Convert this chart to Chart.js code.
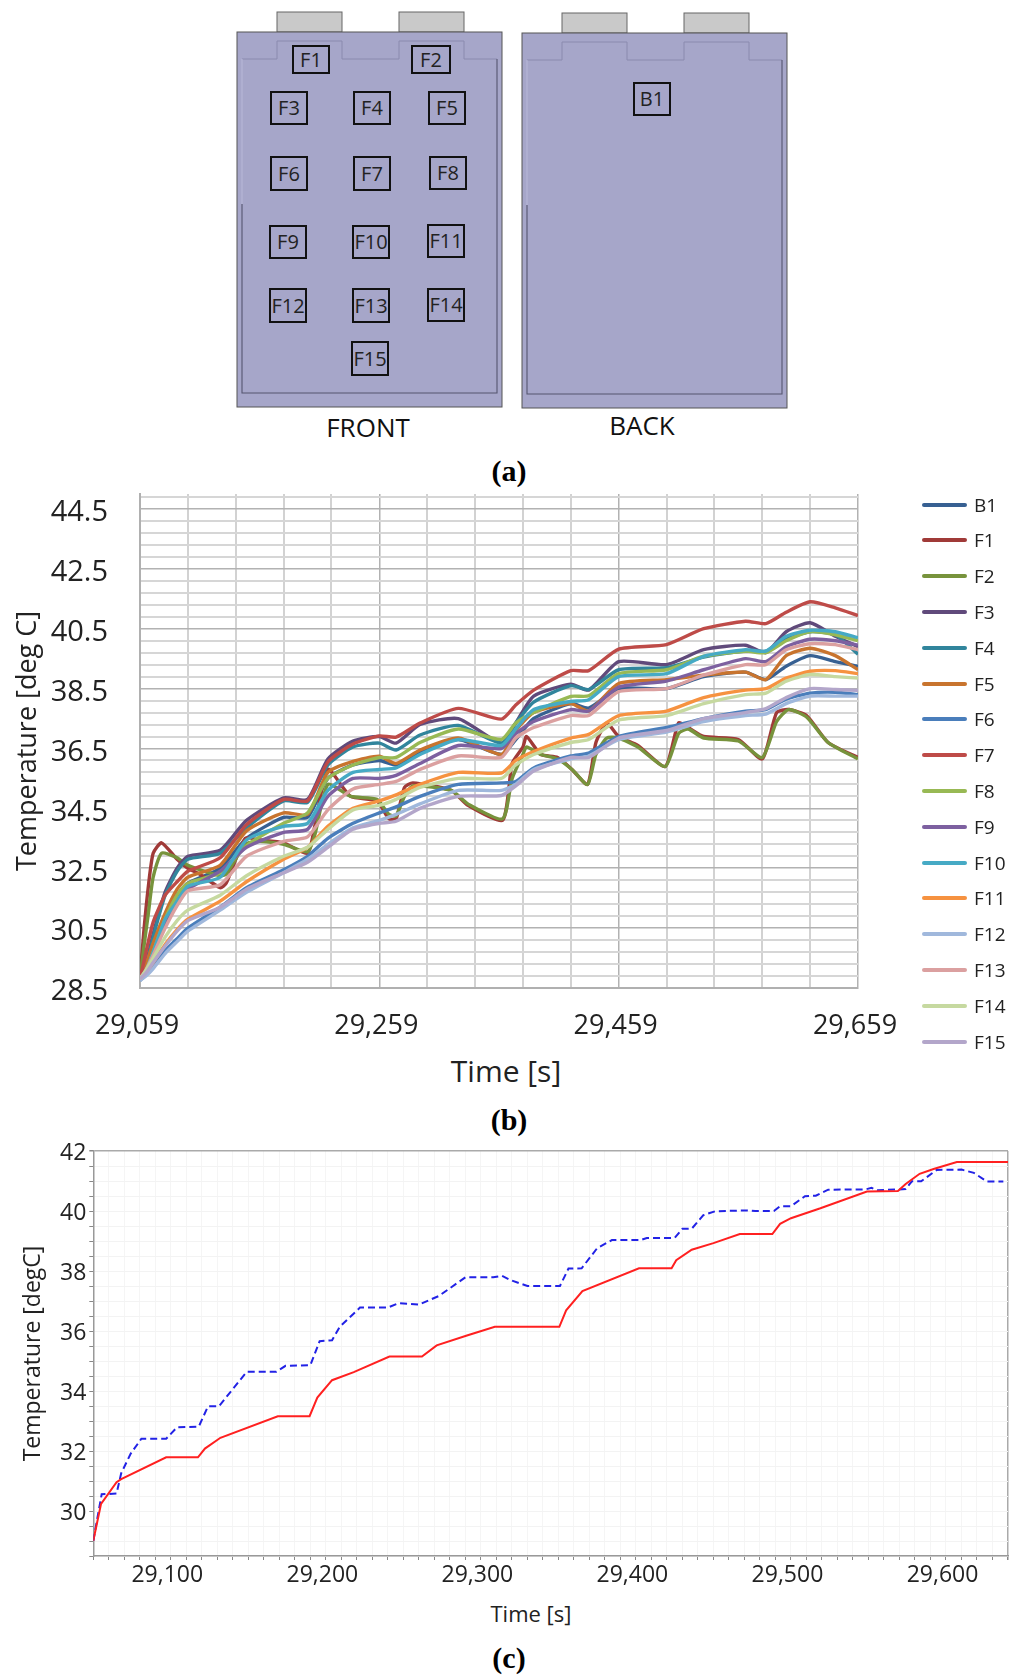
<!DOCTYPE html>
<html>
<head>
<meta charset="utf-8">
<script src="https://cdn.jsdelivr.net/npm/chart.js@4"></script>
<style>
  html, body { margin: 0; padding: 0; background: #fff; }
  #page { position: relative; width: 1024px; height: 1676px; overflow: hidden; font-family: "Open Sans", sans-serif; }
  canvas { position: absolute; left: 0; }
  .cap { position: absolute; width: 60px; margin-left: -30px; text-align: center; font: bold 30px "Liberation Serif", serif; line-height: 32px; color: #000; }
  .leg { position: absolute; left: 922px; height: 24px; font-size: 19px; line-height: 24px; color: #222; }
  .leg i { position: absolute; left: 0; top: 10px; width: 45px; height: 4px; border-radius: 2px; }
  .leg span { position: absolute; left: 52px; }
  .xtitle { position: absolute; width: 200px; margin-left: -100px; text-align: center; color: #222; }
</style>
</head>
<body>
<div id="page">
  <svg id="cell" width="1024" height="450" style="position:absolute;left:0;top:0"></svg>
  <div class="cap" style="left:509px;top:455px">(a)</div>
  <canvas id="chartB" width="1024" height="568" style="top:480px"></canvas>
  <div class="xtitle" style="left:506px;top:1050px;font-size:30px;line-height:42px">Time [s]</div>
  <div id="legendB"></div>
  <div class="cap" style="left:509px;top:1104px">(b)</div>
  <canvas id="chartC" width="1024" height="466" style="top:1130px"></canvas>
  <div class="xtitle" style="left:531px;top:1597px;font-size:22px;line-height:32px">Time [s]</div>
  <div class="cap" style="left:509px;top:1642px">(c)</div>
</div>
<script>
// --- (b) measured temperatures ---
const timeB = [29059,29064,29070,29080,29090,29099,29126,29148,29179,29199,29216,29237,29259,29273,29293,29325,29361,29373,29388,29419,29434,29459,29499,29530,29565,29582,29599,29619,29640,29659];
const timeDip = [29059,29062,29066,29070,29077,29090,29099,29109,29126,29131,29147,29158,29179,29199,29205,29216,29235,29257,29267,29273,29280,29287,29319,29333,29362,29370,29379,29382,29394,29408,29420,29433,29440,29449,29459,29475,29498,29509,29517,29530,29559,29579,29591,29601,29616,29634,29659];

const b1  = [28.8,29.2,29.8,30.9,31.6,32.0,32.5,33.5,34.2,34.2,35.5,35.95,36.1,35.95,36.4,36.8,36.3,36.8,37.5,38.0,37.85,38.5,38.5,38.9,39.05,38.8,39.25,39.6,39.4,39.25];
const f1  = [28.8,30.3,31.9,33.0,33.35,32.8,32.5,32.3,31.85,32.0,33.5,33.45,33.35,33.0,33.9,35.8,34.9,34.75,34.15,34.15,35.2,35.35,35.1,34.6,34.1,36.0,36.55,36.9,36.3,36.2,35.8,35.3,36.7,37.35,36.9,36.6,35.9,37.35,37.2,36.9,36.8,36.15,37.7,37.8,37.6,36.7,36.2];
const f2  = [28.8,29.8,31.0,32.2,33.0,32.85,32.6,32.45,32.25,32.3,33.3,33.4,33.3,33.05,33.6,35.3,34.9,34.8,34.3,34.25,34.9,35.25,35.1,34.65,34.15,35.5,36.3,36.55,36.3,36.15,35.8,35.3,36.3,36.85,36.85,36.55,35.9,37.0,37.15,36.85,36.75,36.2,37.4,37.8,37.55,36.7,36.15];
const f3  = [28.8,29.3,30.3,31.7,32.5,32.9,33.1,34.1,34.85,34.8,36.15,36.75,36.9,36.68,37.3,37.5,36.68,37.35,38.25,38.65,38.45,39.4,39.3,39.8,39.95,39.7,40.4,40.7,40.25,39.9];
const f4  = [28.8,29.2,30.2,31.6,32.4,32.8,33.0,33.85,34.75,34.7,35.95,36.55,36.68,36.45,36.95,37.27,36.68,37.35,38.05,38.6,38.47,39.13,39.2,39.55,39.75,39.75,40.15,40.4,40.3,39.65];
const f5  = [28.8,29.3,30.0,31.0,31.8,32.2,32.6,33.75,34.35,34.3,35.7,36.07,36.24,36.0,36.45,36.85,36.3,37.1,37.7,38.0,37.75,38.67,38.8,38.95,39.05,38.8,39.6,39.85,39.6,39.13];
const f6  = [28.75,28.95,29.2,29.75,30.15,30.5,31.2,31.85,32.45,32.9,33.5,34.0,34.35,34.55,34.9,35.3,35.35,35.4,35.85,36.25,36.35,36.9,37.2,37.5,37.75,37.8,38.15,38.35,38.38,38.3];
const f7  = [28.8,29.7,30.7,31.6,32.05,32.4,32.85,33.95,34.8,34.75,36.05,36.65,36.92,36.88,37.35,37.84,37.48,37.95,38.45,39.1,39.1,39.82,39.97,40.5,40.75,40.67,41.05,41.4,41.2,40.94];
const f8  = [28.8,29.1,29.7,30.8,31.6,32.0,32.35,33.25,34.0,34.35,35.5,35.95,36.2,36.2,36.7,37.15,36.8,37.35,37.7,38.24,38.26,39.0,39.13,39.58,39.75,39.7,40.1,40.4,40.3,40.1];
const f9  = [28.8,29.1,29.6,30.6,31.3,31.8,32.4,33.2,33.7,33.8,34.9,35.5,35.5,35.6,36.0,36.6,36.5,37.0,37.4,37.8,37.75,38.55,38.75,39.13,39.5,39.4,39.9,40.15,40.1,39.95];
const f10 = [28.8,29.05,29.7,30.8,31.4,31.9,32.2,33.45,33.9,34.0,35.1,35.7,35.8,35.85,36.3,36.8,36.6,37.15,37.8,38.07,38.13,38.9,39.0,39.58,39.8,39.75,40.25,40.45,40.4,40.2];
const f11 = [28.8,29.0,29.35,29.95,30.45,30.8,31.4,32.05,32.8,33.2,33.9,34.5,34.75,34.95,35.3,35.7,35.68,36.1,36.4,36.85,36.97,37.6,37.75,38.2,38.45,38.5,38.85,39.08,39.1,39.0];
const f12 = [28.75,28.9,29.15,29.65,30.05,30.4,31.1,31.7,32.35,32.8,33.3,33.85,34.1,34.3,34.65,35.1,35.1,35.3,35.8,36.15,36.25,36.8,37.05,37.4,37.6,37.65,38.0,38.25,38.25,38.25];
const f13 = [28.8,29.1,29.6,30.5,31.25,31.75,31.95,32.9,33.4,33.55,34.45,35.15,35.3,35.4,35.8,36.25,36.2,36.85,37.2,37.6,37.6,38.4,38.5,38.95,39.3,39.3,39.8,40.0,39.97,39.8];
const f14 = [28.8,29.1,29.5,30.2,30.75,31.1,31.6,32.25,32.9,33.2,33.8,34.45,34.6,34.8,35.2,35.5,35.5,35.95,36.3,36.7,36.8,37.45,37.6,38.0,38.3,38.35,38.75,38.97,38.9,38.85];
const f15 = [28.8,29.0,29.35,29.9,30.4,30.75,31.2,31.8,32.35,32.7,33.2,33.8,34.0,34.07,34.5,34.9,34.93,35.25,35.75,36.2,36.2,36.85,37.1,37.5,37.7,37.83,38.2,38.5,38.47,38.44];

const namesB = ['B1','F1','F2','F3','F4','F5','F6','F7','F8','F9','F10','F11','F12','F13','F14','F15'];
const valuesB = [b1,f1,f2,f3,f4,f5,f6,f7,f8,f9,f10,f11,f12,f13,f14,f15];
const colorsB = ['#376092','#a03a38','#77933c','#604a7b','#31859c','#c8742e','#4a7ebb','#be4b48','#98b954','#7d60a0','#46aac5','#f69240','#a0b8dc','#dba0a0','#c6d9a0','#b3a6ca'];

// --- (c) simulated vs measured ---
const timeRed = [29060,29065,29075,29078,29107,29127.5,29132,29142,29179,29199.5,29204.5,29214,29228,29251,29272,29281.5,29301,29319,29360.6,29365,29375.5,29412,29433,29436,29446,29460,29477,29498,29503,29510,29529,29559,29579,29584,29593,29602,29617,29650];
const tempRed = [29.01,30.24,30.96,31.06,31.79,31.79,32.08,32.44,33.16,33.16,33.78,34.36,34.63,35.15,35.15,35.52,35.85,36.14,36.14,36.69,37.33,38.09,38.09,38.36,38.71,38.93,39.23,39.23,39.57,39.76,40.09,40.65,40.67,40.9,41.24,41.4,41.63,41.63];
const timeBlue = [29060,29065.4,29075,29078,29084,29091,29107,29114,29128,29134,29141,29159,29178,29184,29200,29206,29214,29219,29232,29250,29257,29270,29283,29300,29318,29323.5,29329,29340,29361,29366.5,29375,29385,29394.5,29413,29417,29435,29440,29446,29453.5,29461,29481,29487,29499,29503,29510,29519,29526,29534,29558,29562,29566,29584,29588,29594,29604,29620,29628,29636.5,29647];
const tempBlue = [29.01,30.56,30.58,31.26,31.9,32.41,32.41,32.79,32.81,33.49,33.49,34.64,34.64,34.84,34.86,35.66,35.69,36.14,36.78,36.78,36.93,36.88,37.17,37.79,37.79,37.84,37.7,37.5,37.5,38.08,38.09,38.76,39.03,39.03,39.1,39.1,39.41,39.41,39.86,39.99,40.02,40,40,40.16,40.16,40.49,40.51,40.71,40.72,40.77,40.69,40.73,40.99,40.99,41.37,41.38,41.27,40.98,40.98];

const ticksYB = [];
for (let v = 28.5; v < 45; v += 0.4) ticksYB.push(+v.toFixed(1));

const pts = (xs, ys) => xs.map((x, i) => ({ x: x, y: ys[i] }));
const family = '"Open Sans", sans-serif';

new Chart(document.getElementById('chartB'), {
    type: 'line',
    data: {
        datasets: namesB.map((name, i) => ({
            label: name,
            data: pts(valuesB[i].length === timeB.length ? timeB : timeDip, valuesB[i]),
            borderColor: colorsB[i],
            borderWidth: 3.4,
            pointRadius: 0,
            tension: 0.2,
            order: -i
        }))
    },
    options: {
        responsive: false,
        animation: false,
        layout: { padding: { left: 0, top: 14, right: 166, bottom: 0 } },
        plugins: { legend: { display: false }, tooltip: { enabled: false } },
        scales: {
            x: {
                type: 'linear', min: 29059, max: 29659,
                afterFit: s => { s.height = 60; },
                grid: {
                    drawTicks: false,
                    color: c => c.index % 5 === 0 ? '#b2b2b2' : '#d2d2d2',
                    lineWidth: c => c.index % 5 === 0 ? 1.5 : 2
                },
                border: { color: '#b0b0b0', width: 2 },
                ticks: {
                    stepSize: 40, autoSkip: false, maxRotation: 0, padding: 22, labelOffset: -3,
                    color: '#222', font: { family: family, size: 27 },
                    callback: (v, i) => i % 5 === 0 ? v.toLocaleString('en-US') : ''
                }
            },
            y: {
                type: 'linear', min: 28.5, max: 45,
                afterBuildTicks: s => { s.ticks = ticksYB.map(v => ({ value: v })); },
                afterFit: s => { s.width = 140; s.paddingTop = 0; s.paddingBottom = 0; },
                grid: {
                    drawTicks: false,
                    color: c => c.index % 5 === 0 ? '#b2b2b2' : '#d6d6d6',
                    lineWidth: c => c.index % 5 === 0 ? 1.5 : 2
                },
                border: { color: '#b0b0b0', width: 2 },
                ticks: {
                    autoSkip: false, padding: 32, labelOffset: 4, color: '#222', font: { family: family, size: 29 },
                    callback: (v, i) => i % 5 === 0 ? v.toFixed(1) : ''
                },
                title: { display: true, text: 'Temperature [deg C]', color: '#222', font: { family: family, size: 27 }, padding: { top: 12, bottom: 0 } }
            }
        }
    }
});

new Chart(document.getElementById('chartC'), {
    type: 'line',
    data: {
        datasets: [
            { label: 'Simulated', data: pts(timeRed, tempRed), borderColor: '#ff2020', borderWidth: 2, pointRadius: 0, tension: 0, order: 0 },
            { label: 'Measured', data: pts(timeBlue, tempBlue), borderColor: '#2222e6', borderWidth: 2, borderDash: [7, 4], pointRadius: 0, tension: 0, order: 1 }
        ]
    },
    options: {
        responsive: false,
        animation: false,
        layout: { padding: { left: 0, top: 21, right: 16, bottom: 0 } },
        plugins: { legend: { display: false }, tooltip: { enabled: false } },
        scales: {
            x: {
                type: 'linear', min: 29060, max: 29650,
                afterFit: s => { s.height = 40; },
                grid: {
                    tickLength: 4, tickColor: '#888',
                    color: c => c.tick.value === 29650 ? '#aaa' : '#f5f5f5',
                    lineWidth: c => c.tick.value === 29650 ? 1.5 : 1
                },
                border: { color: '#999', width: 1.5 },
                ticks: {
                    stepSize: 10, autoSkip: false, maxRotation: 0, padding: 2, labelOffset: 12,
                    color: '#222', font: { family: family, size: 23 },
                    callback: v => v % 100 === 0 ? v.toLocaleString('en-US') : ''
                }
            },
            y: {
                type: 'linear', min: 28.5, max: 42,
                afterFit: s => { s.width = 93.3; },
                grid: {
                    tickLength: 4, tickColor: '#888',
                    color: c => c.tick.value === 42 ? '#aaa' : '#f3f3f3',
                    lineWidth: c => c.tick.value === 42 ? 1.5 : 1
                },
                border: { color: '#999', width: 1.5 },
                ticks: {
                    stepSize: 0.5, autoSkip: false, padding: 3, labelOffset: 2, color: '#222', font: { family: family, size: 23 },
                    callback: v => v % 2 === 0 ? String(v) : ''
                },
                title: { display: true, text: 'Temperature [degC]', color: '#222', font: { family: family, size: 23 }, padding: { top: 20, bottom: 0 } }
            }
        }
    }
});

// HTML legend for (b)
const legendB = document.getElementById('legendB');
namesB.forEach((name, i) => {
    const row = document.createElement('div');
    row.className = 'leg';
    row.style.top = (504.5 + i * 35.8 - 12) + 'px';
    row.innerHTML = `<i style="background:${colorsB[i]}"></i><span>${name}</span>`;
    legendB.appendChild(row);
});

// --- (a) cell sketch with sensor locations ---
const sensors = [
    ['F1',293,46,36,27], ['F2',412,46,38,27],
    ['F3',271,92,36,32], ['F4',354,92,36,32], ['F5',429,92,36,32],
    ['F6',271,157,36,33], ['F7',354,157,36,33], ['F8',430,157,36,32],
    ['F9',270,226,36,32], ['F10',353,226,36,32], ['F11',428,225,36,32],
    ['F12',270,289,36,33], ['F13',353,289,36,33], ['F14',428,289,36,32],
    ['F15',352,342,36,33], ['B1',634,83,36,32]
];
const cellBody = (x, y) => `
    <rect x="${x + 40}" y="${y - 20}" width="65" height="20" fill="#c9c9c9" stroke="#666"/>
    <rect x="${x + 162}" y="${y - 20}" width="65" height="20" fill="#c9c9c9" stroke="#666"/>
    <rect x="${x}" y="${y}" width="265" height="375" fill="#a6a6c9" stroke="#555"/>
    <path d="M${x + 5},${y + 27}H${x + 40}V${y + 9}H${x + 105}V${y + 27}H${x + 162}V${y + 9}H${x + 227}V${y + 27}H${x + 260}" fill="none" stroke="#8a8aae"/>
    <path d="M${x + 260},${y + 27}V${y + 361}H${x + 5}V${y + 172}" fill="none" stroke="#55556f" stroke-width="1.1"/>
    <path d="M${x + 5},${y + 27}V${y + 172}" fill="none" stroke="#b8b8d8"/>`;
let svg = cellBody(237, 32) + cellBody(522, 33);
sensors.forEach(s => {
    svg += `<rect x="${s[1]}" y="${s[2]}" width="${s[3]}" height="${s[4]}" fill="none" stroke="#111" stroke-width="2"/>`;
    svg += `<text x="${s[1] + s[3] / 2}" y="${s[2] + s[4] / 2 + 7}" text-anchor="middle" font-size="20" font-family="Open Sans" fill="#222">${s[0]}</text>`;
});
svg += `<text x="368" y="437" text-anchor="middle" font-size="26" font-family="Open Sans" fill="#111">FRONT</text>`;
svg += `<text x="642" y="435" text-anchor="middle" font-size="26" font-family="Open Sans" fill="#111">BACK</text>`;
document.getElementById('cell').innerHTML = svg;
</script>
</body>
</html>
